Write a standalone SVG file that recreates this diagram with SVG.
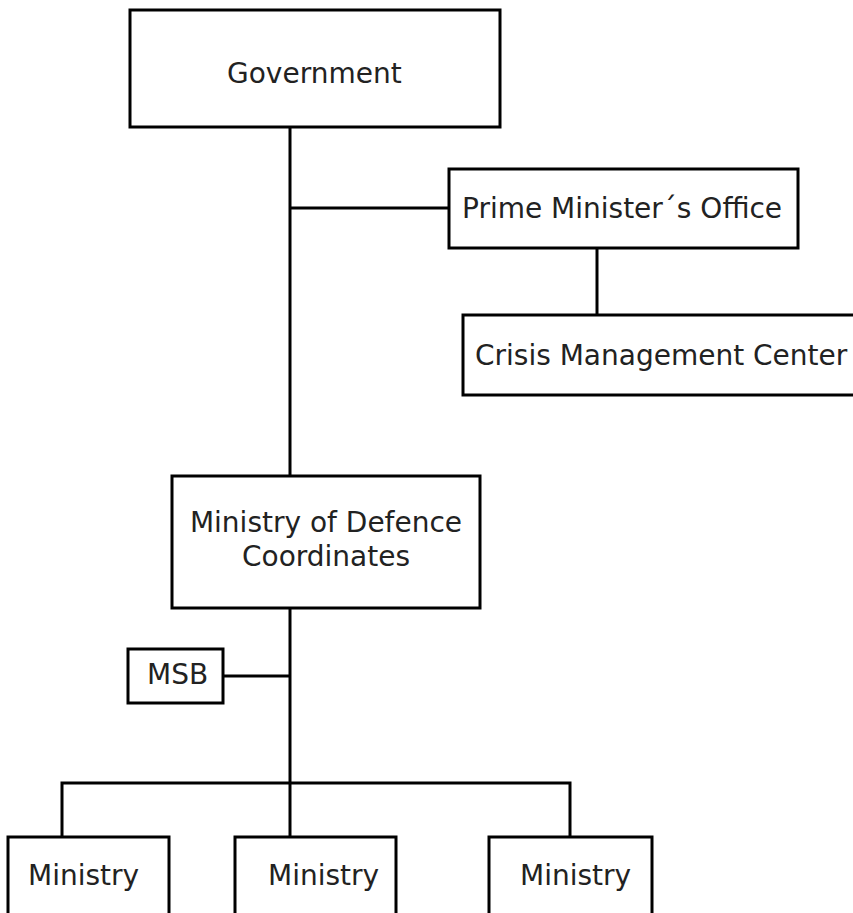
<svg xmlns="http://www.w3.org/2000/svg" width="853" height="913" viewBox="0 0 853 913">
<style>
.box{fill:#fff;stroke:#000;stroke-width:3}
.ln{fill:none;stroke:#000;stroke-width:3}
text{font-family:"DejaVu Sans",Verdana,sans-serif;font-size:28px;fill:#222}
</style>
<rect width="853" height="913" fill="#fff"/>
<g id="connectors">
<path class="ln" d="M290 127V476"/>
<path class="ln" d="M290 208H449"/>
<path class="ln" d="M597 248V315"/>
<path class="ln" d="M290 608V837"/>
<path class="ln" d="M223 676H290"/>
<path class="ln" d="M62 837V783H570V837"/>
</g>
<g id="government">
<rect class="box" x="130" y="10" width="370" height="117"/>
<text x="227" y="83">Government</text>
</g>
<g id="pmo">
<rect class="box" x="449" y="169" width="349" height="79"/>
<text x="462" y="218">Prime Minister´s Office</text>
</g>
<g id="crisis">
<rect class="box" x="463" y="315" width="400" height="80"/>
<text x="475" y="365">Crisis Management Center</text>
</g>
<g id="mod">
<rect class="box" x="172" y="476" width="308" height="132"/>
<text x="326" y="532" text-anchor="middle">Ministry of Defence</text>
<text x="326" y="566" text-anchor="middle">Coordinates</text>
</g>
<g id="msb">
<rect class="box" x="128" y="649" width="95" height="54"/>
<text x="147" y="684">MSB</text>
</g>
<g id="ministry1">
<rect class="box" x="8" y="837" width="161" height="90"/>
<text x="28" y="885">Ministry</text>
</g>
<g id="ministry2">
<rect class="box" x="235" y="837" width="161" height="90"/>
<text x="268" y="885">Ministry</text>
</g>
<g id="ministry3">
<rect class="box" x="489" y="837" width="163" height="90"/>
<text x="520" y="885">Ministry</text>
</g>
</svg>
